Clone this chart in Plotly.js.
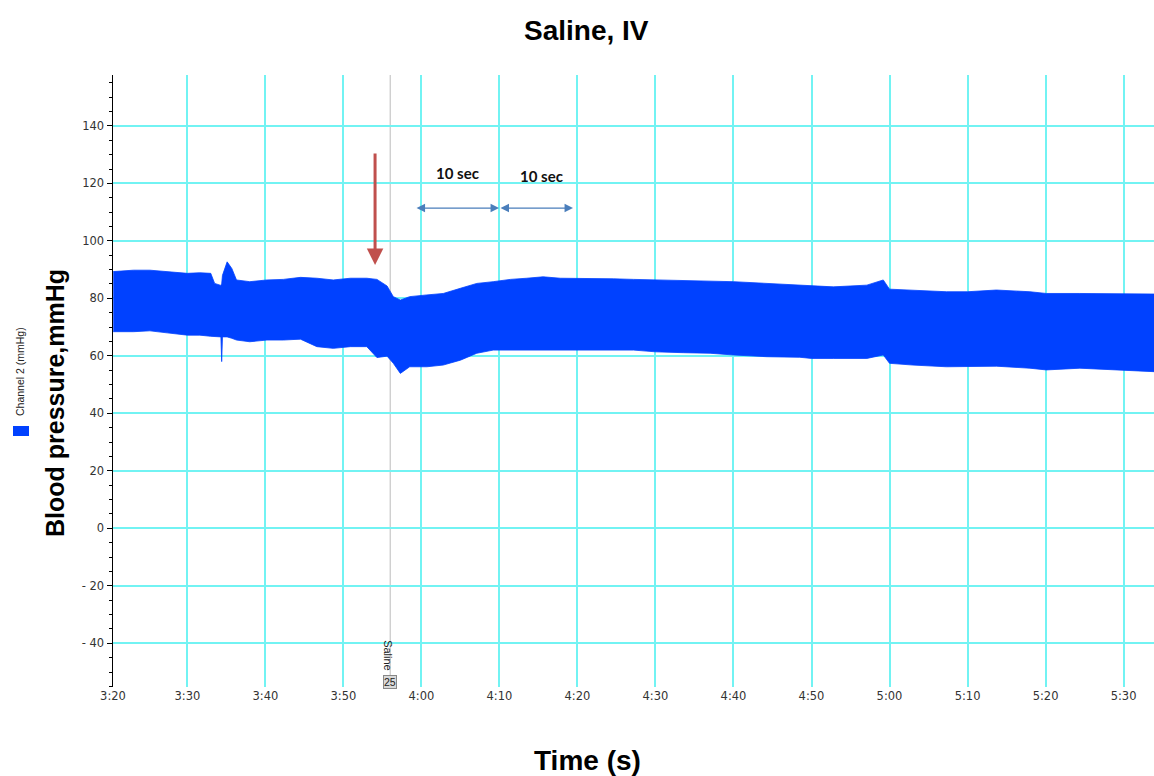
<!DOCTYPE html>
<html>
<head>
<meta charset="utf-8">
<script src="https://cdn.plot.ly/plotly-3.0.1.min.js"></script>
<style>html,body{margin:0;padding:0;background:#fff;}#chart{width:1154px;height:776px;}</style>
</head>
<body>
<div id="chart"></div>
<script>
// ---- data (time in seconds, 3:20 = 200 s) ----
const timeSec = [200.5, 203.1, 205.2, 207.4, 210.0, 211.6, 213.0, 213.5, 214.3, 214.4, 214.5, 215.1, 215.7, 216.3, 218.0, 220.2, 222.3, 224.5, 226.6, 228.7, 230.9, 233.0, 234.3, 235.6, 236.4, 237.3, 238.5, 240.7, 242.8, 245.0, 247.1, 249.2, 251.4, 253.5, 255.6, 257.8, 259.9, 262.0, 264.6, 267.2, 270.0, 273.6, 277.0, 280.0, 284.3, 288.5, 290.0, 292.8, 297.1, 299.2, 300.0, 303.0, 307.3, 310.0, 313.7, 318.0, 320.1, 324.4, 328.7, 333.9];
const systolic = [89.3, 89.8, 89.8, 89.3, 88.7, 88.9, 88.7, 85.2, 84.5, 85.0, 88.0, 92.7, 90.4, 86.4, 85.8, 86.4, 86.6, 87.3, 87.0, 86.4, 87.0, 87.0, 86.6, 84.3, 80.6, 79.4, 80.6, 81.2, 81.7, 83.5, 85.2, 85.8, 86.6, 87.0, 87.5, 87.0, 87.0, 87.0, 86.8, 86.6, 86.4, 86.2, 85.8, 85.8, 85.2, 84.6, 84.6, 84.0, 84.6, 86.4, 83.2, 82.9, 82.3, 82.3, 82.9, 82.3, 81.7, 81.7, 81.7, 81.5];
const diastolic = [68.4, 68.4, 68.7, 68.0, 67.2, 67.2, 66.8, 66.6, 66.6, 58.0, 66.6, 66.6, 66.1, 65.5, 64.9, 65.5, 65.5, 65.8, 63.2, 62.6, 63.2, 63.2, 59.4, 59.9, 57.4, 53.9, 56.2, 56.2, 56.8, 58.5, 60.9, 62.0, 62.0, 62.0, 61.8, 62.0, 61.8, 62.0, 62.0, 62.0, 61.4, 61.1, 60.9, 60.3, 59.7, 59.5, 59.1, 59.1, 59.1, 60.3, 57.4, 56.8, 56.2, 56.2, 56.4, 55.7, 55.1, 55.7, 55.1, 54.5];

const xTickSec = [200, 210, 220, 230, 240, 250, 260, 270, 280, 290, 300, 310, 320, 330];
const xTickLabels = ['3:20', '3:30', '3:40', '3:50', '4:00', '4:10', '4:20', '4:30', '4:40', '4:50', '5:00', '5:10', '5:20', '5:30'];
const yTickVals = [-40, -20, 0, 20, 40, 60, 80, 100, 120, 140];
const yTickLabels = ['- 40', '- 20', '0', '20', '40', '60', '80', '100', '120', '140'];

const salineTime = 236.0;
const arrowRed = {t: 234.06, from: 130.9, to: 91.6};
const spanStarts = [239.19, 249.95];
const spanEnds = [249.95, 259.43];
const spanLevel = 111.4;
const spanLabels = ['10 sec', '10 sec'];
const spanLabelPos = [[244.57, 123.6], [255.34, 122.5]];

// ---- layout geometry ----
const W = 1154, H = 776;
const M = {l: 113, r: 0, t: 75, b: 89};
const xRange = [200.47, 333.9];
const yRange = [-55.2, 157.7];
const pw = W - M.l - M.r, ph = H - M.t - M.b;
const px = x => (x - M.l) / pw;
const py = y => (H - M.b - y) / ph;

const blue = '#0041ff';
const grid = '#72f3f3';
const font = 'Liberation Sans, Arial, sans-serif';

const band = {
  x: timeSec.concat(timeSec.slice().reverse()),
  y: systolic.concat(diastolic.slice().reverse()),
  type: 'scatter', mode: 'lines', fill: 'toself',
  fillcolor: blue, line: {color: blue, width: 0.8},
  hoverinfo: 'skip', showlegend: false, name: 'Channel 2 (mmHg)'
};

const annotations = [
  {x: arrowRed.t, y: arrowRed.to, ax: arrowRed.t, ay: arrowRed.from, axref: 'x', ayref: 'y', xref: 'x', yref: 'y',
   text: '', showarrow: true, arrowhead: 2, arrowsize: 1.1, arrowwidth: 3, arrowcolor: '#c0504d'}
];
spanStarts.forEach((s, i) => {
  annotations.push({x: spanEnds[i], y: spanLevel, ax: s, ay: spanLevel, axref: 'x', ayref: 'y', xref: 'x', yref: 'y',
    text: '', showarrow: true, arrowside: 'end+start', arrowhead: 2, startarrowhead: 2,
    arrowsize: 1.3, startarrowsize: 1.3, arrowwidth: 1.3, arrowcolor: '#4a7ebb'});
  annotations.push({x: spanLabelPos[i][0], y: spanLabelPos[i][1], xref: 'x', yref: 'y', text: '<b>' + spanLabels[i] + '</b>',
    showarrow: false, font: {family: 'Lato, Open Sans, sans-serif', size: 15, color: '#111'}});
});
annotations.push(
  {x: px(586), y: py(30), xref: 'paper', yref: 'paper', xanchor: 'center', yanchor: 'middle', text: '<b>Saline, IV</b>', showarrow: false,
   font: {family: font, size: 28, color: '#000'}},
  {x: px(587), y: py(760), xref: 'paper', yref: 'paper', xanchor: 'center', yanchor: 'middle', text: '<b>Time (s)</b>', showarrow: false,
   font: {family: font, size: 28, color: '#000'}},
  {x: px(55), y: py(403), xref: 'paper', yref: 'paper', xanchor: 'center', yanchor: 'middle', text: '<b>Blood pressure,mmHg</b>', showarrow: false, textangle: -90,
   font: {family: font, size: 25, color: '#000'}},
  {x: px(20), y: py(372), xref: 'paper', yref: 'paper', xanchor: 'center', yanchor: 'middle', text: 'Channel 2 (mmHg)', showarrow: false, textangle: -90,
   font: {family: font, size: 10.5, color: '#222'}},
  {x: salineTime - 0.3, y: py(656), xref: 'x', yref: 'paper', xanchor: 'center', yanchor: 'middle', text: 'Saline', showarrow: false, textangle: 90,
   font: {family: font, size: 11, color: '#222'}},
  {x: salineTime, y: py(682), xref: 'x', yref: 'paper', xanchor: 'center', yanchor: 'middle', text: '25', showarrow: false,
   bgcolor: '#d9d9d9', bordercolor: '#888', borderwidth: 1, borderpad: 0,
   font: {family: font, size: 10.5, color: '#222'}}
);

const shapes = [
  {type: 'line', xref: 'x', yref: 'paper', x0: salineTime, x1: salineTime, y0: 0, y1: 1, line: {color: '#bbbbbb', width: 1}, layer: 'below'},
  {type: 'rect', xref: 'paper', yref: 'paper', x0: px(13), x1: px(29), y0: py(436), y1: py(426), fillcolor: blue, line: {width: 0}}
];

const layout = {
  width: W, height: H,
  margin: M,
  paper_bgcolor: '#fff', plot_bgcolor: '#fff',
  showlegend: false,
  xaxis: {
    range: xRange, tickmode: 'array',
    tickvals: xTickSec.map(v => Math.max(v, xRange[0])), ticktext: xTickLabels,
    showgrid: true, gridcolor: grid, gridwidth: 2, zeroline: false, showline: false,
    ticks: '', tickfont: {family: 'DejaVu Sans, Verdana, sans-serif', size: 11.5, color: '#333'}
  },
  yaxis: {
    range: yRange, tickmode: 'array', tickvals: yTickVals, ticktext: yTickLabels,
    showgrid: true, gridcolor: grid, gridwidth: 2, zeroline: false,
    showline: true, linecolor: '#000', linewidth: 1.5,
    ticks: 'outside', ticklen: 5, tickcolor: '#000', tickwidth: 1,
    minor: {tickmode: 'linear', tick0: 0, dtick: 5, ticks: 'outside', ticklen: 3, tickcolor: '#000', showgrid: false},
    tickfont: {family: 'DejaVu Sans, Verdana, sans-serif', size: 11.5, color: '#333'}
  },
  annotations: annotations,
  shapes: shapes
};

Plotly.newPlot('chart', [band], layout, {displayModeBar: false, staticPlot: true});
</script>
</body>
</html>
